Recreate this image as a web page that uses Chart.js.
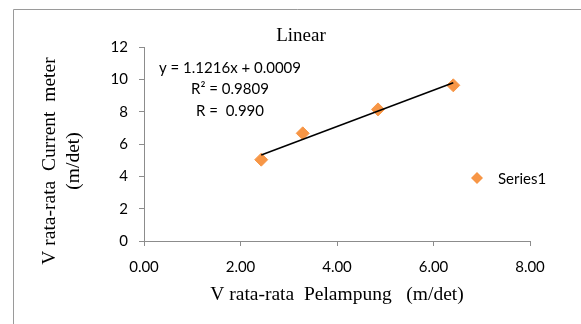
<!DOCTYPE html>
<html>
<head>
<meta charset="utf-8">
<script src="https://cdn.jsdelivr.net/npm/chart.js@4"></script>
<style>
  body { margin: 0; background: #fff; }
  #wrap { width: 581px; height: 324px; position: relative; }
</style>
</head>
<body>
<div id="wrap"><canvas id="linChart" width="581" height="324"></canvas></div>
<script>
// values
var pelampung = [2.43, 3.29, 4.85, 6.41];
var currentMeter = [5.03, 6.66, 8.14, 9.63];
var trendX = [2.43, 6.41];
var trendY = [5.32, 9.79];
var xTicks = ['0.00', '2.00', '4.00', '6.00', '8.00'];
var yTicks = ['0', '2', '4', '6', '8', '10', '12'];
var eqLines = ['y = 1.1216x + 0.0009', 'R\u00b2 = 0.9809', 'R =  0.990'];

var orange = 'rgb(247, 150, 70)';
var axisGrey = '#8c8c8c';
var sans = 'Lato, "Open Sans", sans-serif';
var serif = '"Liberation Serif", "DejaVu Serif", serif';

var points = pelampung.map(function (v, i) { return { x: v, y: currentMeter[i] }; });
var trend = trendX.map(function (v, i) { return { x: v, y: trendY[i] }; });

// texts placed like the original (title, y title, equation, legend, frame)
var extras = {
  id: 'extras',
  afterDraw: function (chart) {
    var ctx = chart.ctx;
    ctx.save();
    ctx.strokeStyle = '#9a9a9a';
    ctx.lineWidth = 1;
    ctx.beginPath();
    ctx.moveTo(13.5, 324);
    ctx.lineTo(13.5, 9.5);
    ctx.lineTo(581, 9.5);
    ctx.stroke();

    ctx.fillStyle = '#000';
    ctx.textAlign = 'center';
    ctx.textBaseline = 'middle';
    ctx.font = '19px ' + serif;
    ctx.fillText('Linear', 301, 36);

    ctx.font = '15px ' + sans;
    ctx.fillText(eqLines[0], 230, 68);
    ctx.fillText(eqLines[1], 230, 89);
    ctx.fillText(eqLines[2], 230, 111);

    ctx.save();
    ctx.translate(50, 161);
    ctx.rotate(-Math.PI / 2);
    ctx.font = '19.5px ' + serif;
    ctx.fillText('V rata-rata  Current  meter', 0, 0);
    ctx.fillText('(m/det)', 0, 24);
    ctx.restore();

    // legend
    var legX = 477, legY = 178;
    ctx.fillStyle = orange;
    ctx.beginPath();
    ctx.moveTo(legX, legY - 6);
    ctx.lineTo(legX + 6, legY);
    ctx.lineTo(legX, legY + 6);
    ctx.lineTo(legX - 6, legY);
    ctx.closePath();
    ctx.fill();
    ctx.fillStyle = '#000';
    ctx.textAlign = 'left';
    ctx.font = '15px ' + sans;
    ctx.fillText(chart.data.datasets[0].label, 498, legY + 1);
    ctx.restore();
  }
};

var chart = new Chart(document.getElementById('linChart'), {
  type: 'scatter',
  data: {
    datasets: [{
      label: 'Series1',
      data: points,
      backgroundColor: orange,
      borderColor: orange,
      pointStyle: 'rectRot',
      pointRadius: 6.5,
      pointHoverRadius: 6.5,
      order: 2
    }, {
      label: 'trend',
      type: 'line',
      data: trend,
      borderColor: '#000',
      borderWidth: 1.5,
      pointRadius: 0,
      fill: false,
      order: 1
    }]
  },
  plugins: [extras],
  options: {
    responsive: false,
    animation: false,
    layout: { padding: { left: 0, right: 51, top: 47, bottom: 0 } },
    plugins: {
      legend: { display: false },
      tooltip: { enabled: false }
    },
    scales: {
      x: {
        type: 'linear',
        min: 0, max: 8,
        afterFit: function (s) { s.height = 83; },
        border: { color: axisGrey, width: 1 },
        grid: { drawOnChartArea: false, color: axisGrey, tickLength: 5 },
        ticks: {
          stepSize: 2,
          color: '#000',
          padding: 12,
          font: { family: sans, size: 15 },
          callback: function (v) { return xTicks[v / 2]; }
        },
        title: {
          display: true,
          text: 'V rata-rata  Pelampung   (m/det)',
          color: '#000',
          font: { family: serif, size: 19.5 },
          padding: { top: 0, bottom: 17 }
        }
      },
      y: {
        min: 0, max: 12,
        afterFit: function (s) { s.width = 144; },
        border: { color: axisGrey, width: 1 },
        grid: { drawOnChartArea: false, color: axisGrey, tickLength: 5 },
        ticks: {
          stepSize: 2,
          color: '#000',
          padding: 11,
          font: { family: sans, size: 15 },
          callback: function (v) { return yTicks[v / 2]; }
        }
      }
    }
  }
});
</script>
</body>
</html>
